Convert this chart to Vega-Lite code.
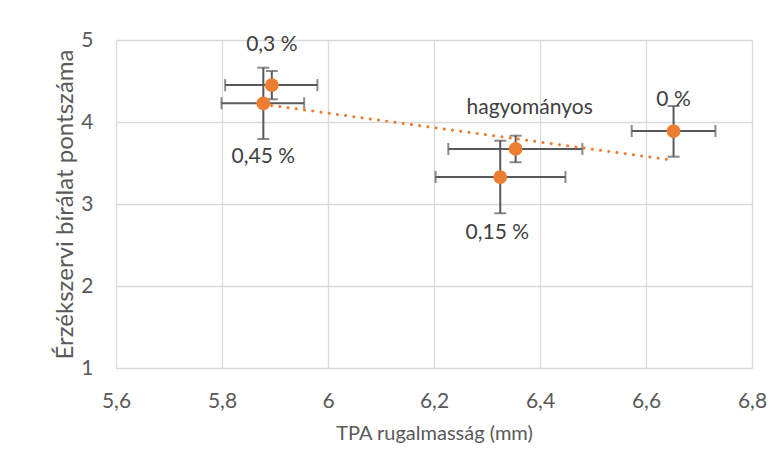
{
  "$schema": "https://vega.github.io/schema/vega-lite/v6.json",
  "autosize": "none",
  "width": 636,
  "height": 328,
  "padding": {"left": 116, "top": 40, "right": 32, "bottom": 104},
  "background": "white",
  "config": {
    "view": {"stroke": null},
    "font": "Lato",
    "axis": {
      "gridColor": "#D9D9D9",
      "gridWidth": 1.3,
      "domain": false,
      "ticks": false,
      "labelColor": "#595959",
      "titleColor": "#595959",
      "labelFont": "Lato",
      "titleFont": "Lato",
      "titleFontWeight": "normal",
      "labelFlush": false
    }
  },
  "data": {
    "values": [
      {"label": "0,3 %", "x": 5.894, "y": 4.45, "xlo": 5.806, "xhi": 5.98, "ylo": 4.277, "yhi": 4.622},
      {"label": "0,45 %", "x": 5.878, "y": 4.228, "xlo": 5.799, "xhi": 5.955, "ylo": 3.793, "yhi": 4.662},
      {"label": "hagyományos", "x": 6.354, "y": 3.671, "xlo": 6.227, "xhi": 6.48, "ylo": 3.509, "yhi": 3.833},
      {"label": "0,15 %", "x": 6.325, "y": 3.329, "xlo": 6.203, "xhi": 6.448, "ylo": 2.887, "yhi": 3.772},
      {"label": "0 %", "x": 6.652, "y": 3.89, "xlo": 6.573, "xhi": 6.731, "ylo": 3.577, "yhi": 4.195}
    ]
  },
  "encoding": {
    "x": {
      "field": "x",
      "type": "quantitative",
      "scale": {"domain": [5.6, 6.8], "nice": false, "zero": false},
      "axis": {
        "title": "TPA rugalmasság (mm)",
        "values": [5.6, 5.8, 6, 6.2, 6.4, 6.6, 6.8],
        "labelExpr": "replace(toString(round(datum.value * 10) / 10), '.', ',')",
        "labelFontSize": 21,
        "labelPadding": 22,
        "titleFontSize": 20,
        "titlePadding": 12
      }
    },
    "y": {
      "field": "y",
      "type": "quantitative",
      "scale": {"domain": [1, 5], "nice": false, "zero": false},
      "axis": {
        "title": "Érzékszervi bírálat pontszáma",
        "values": [1, 2, 3, 4, 5],
        "labelFontSize": 21,
        "labelPadding": 23,
        "titleFontSize": 24,
        "titlePadding": 3
      }
    }
  },
  "layer": [
    {
      "mark": {"type": "rule", "color": "#595959", "strokeWidth": 2},
      "encoding": {"x": {"field": "xlo", "type": "quantitative"}, "x2": {"field": "xhi"}}
    },
    {
      "mark": {"type": "rule", "color": "#595959", "strokeWidth": 2},
      "encoding": {"y": {"field": "ylo", "type": "quantitative"}, "y2": {"field": "yhi"}}
    },
    {
      "mark": {"type": "tick", "orient": "horizontal", "color": "#595959", "size": 12, "thickness": 2},
      "encoding": {"y": {"field": "ylo", "type": "quantitative"}}
    },
    {
      "mark": {"type": "tick", "orient": "horizontal", "color": "#595959", "size": 12, "thickness": 2},
      "encoding": {"y": {"field": "yhi", "type": "quantitative"}}
    },
    {
      "mark": {"type": "tick", "orient": "vertical", "color": "#595959", "size": 12, "thickness": 2},
      "encoding": {"x": {"field": "xlo", "type": "quantitative"}}
    },
    {
      "mark": {"type": "tick", "orient": "vertical", "color": "#595959", "size": 12, "thickness": 2},
      "encoding": {"x": {"field": "xhi", "type": "quantitative"}}
    },
    {
      "mark": {"type": "point", "filled": true, "shape": "circle", "size": 190, "color": "#ED7D31", "opacity": 1}
    },
    {
      "transform": [{"regression": "y", "on": "x"}],
      "mark": {"type": "line", "color": "#ED7D31", "strokeWidth": 3, "strokeDash": [0.1, 8.2], "strokeCap": "round"},
      "encoding": {}
    },
    {
      "transform": [{"filter": "datum.label === '0,3 %'"}],
      "mark": {"type": "text", "fontSize": 21, "color": "#404040", "dy": -40},
      "encoding": {"text": {"field": "label"}}
    },
    {
      "transform": [{"filter": "datum.label === '0,45 %'"}],
      "mark": {"type": "text", "fontSize": 21, "color": "#404040", "dy": 54},
      "encoding": {"text": {"field": "label"}}
    },
    {
      "transform": [{"filter": "datum.label === 'hagyományos'"}],
      "mark": {"type": "text", "fontSize": 21, "color": "#404040", "dx": 14, "dy": -41},
      "encoding": {"text": {"field": "label"}}
    },
    {
      "transform": [{"filter": "datum.label === '0,15 %'"}],
      "mark": {"type": "text", "fontSize": 21, "color": "#404040", "dx": -3, "dy": 56},
      "encoding": {"text": {"field": "label"}}
    },
    {
      "transform": [{"filter": "datum.label === '0 %'"}],
      "mark": {"type": "text", "fontSize": 21, "color": "#404040", "dy": -31},
      "encoding": {"text": {"field": "label"}}
    }
  ]
}
